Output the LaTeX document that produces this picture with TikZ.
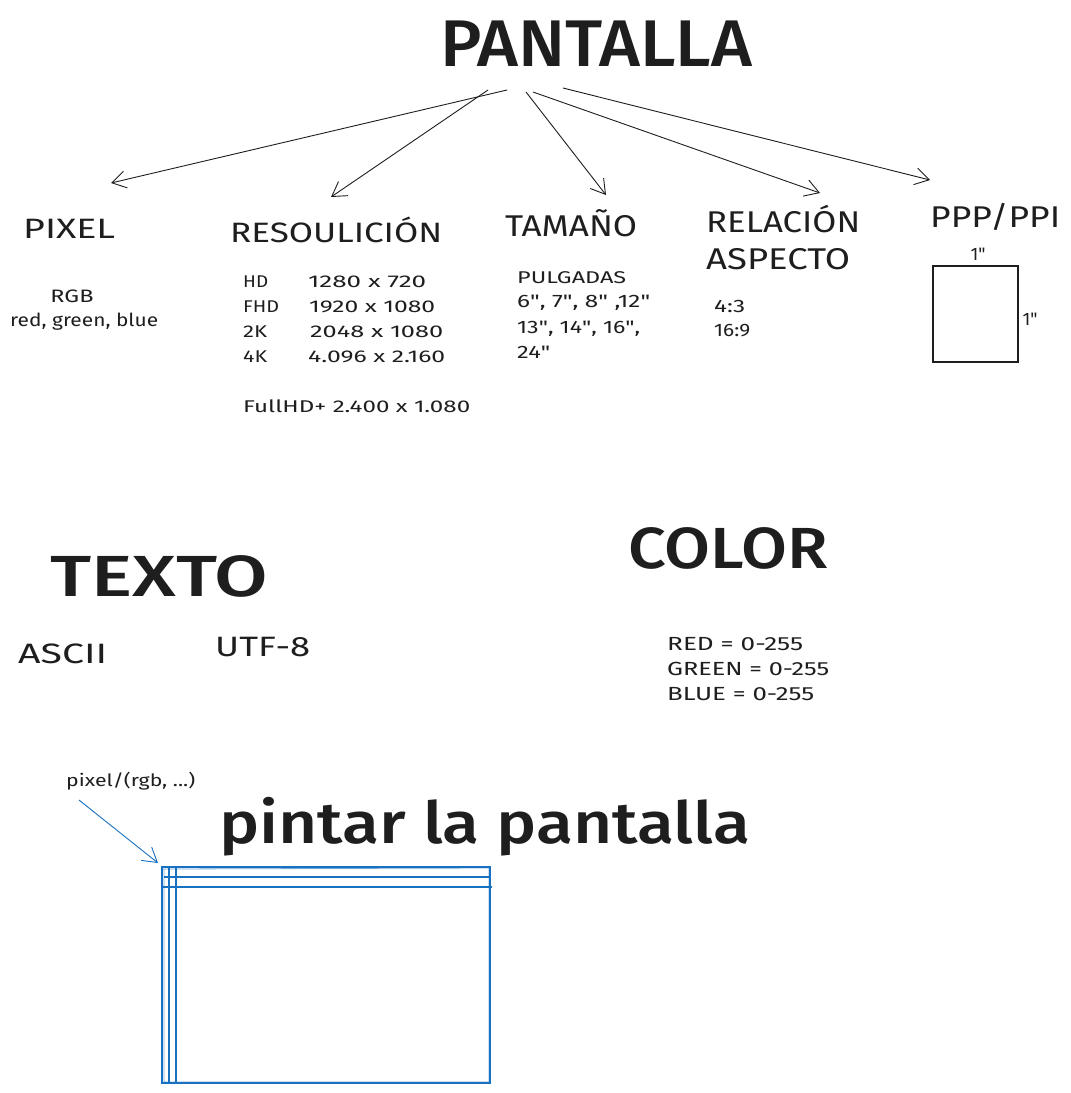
\documentclass[tikz,border=0pt]{standalone}
\usepackage{fontspec}
\setmainfont{Fira Sans}[BoldFont={Fira Sans Medium}]
\newfontfamily\qfont{Fira Sans}[Ligatures=TeXOff]
\usepackage{graphicx}
\usetikzlibrary{arrows.meta}
\definecolor{ink}{HTML}{1E1E1E}
\definecolor{sketchblue}{HTML}{1971C2}
\newcommand\fitw[2]{\resizebox{#1pt}{\height}{#2}}
\newcommand\fsz[1]{\fontsize{#1}{#1}\selectfont}
\newcommand\dq{{\qfont"}}
\tikzset{
  lbl/.style={inner sep=0pt, anchor=base west, text=ink},
  lblc/.style={inner sep=0pt, anchor=base, text=ink},
  conn/.style={draw=ink, line width=0.9pt, -{Straight Barb[length=14pt,width=17pt,line width=0.9pt]}},
  bconn/.style={draw=sketchblue, line width=0.9pt, -{Straight Barb[length=14pt,width=17pt,line width=0.9pt]}},
  bline/.style={draw=sketchblue, line width=1.1pt},
  bline2/.style={draw=sketchblue, line width=0.8pt, opacity=0.6},
  sq/.style={draw=ink, line width=1.1pt}
}
\begin{document}
\begin{tikzpicture}[x=1pt,y=-1pt]
\useasboundingbox[fill=white] (0,0) rectangle (1071,1093);

% Title
\node[lbl] (pantalla) at (440,66) {\fsz{66}\bfseries\fitw{312}{PANTALLA}};

% Section heads
\node[lbl] (pixel) at (23,238) {\fsz{28}\fitw{92}{PIXEL}};
\node[lbl] (resol) at (230,242) {\fsz{28}\fitw{212}{RESOULICIÓN}};
\node[lbl] (tam) at (505,236) {\fsz{30}\fitw{132}{TAMAÑO}};
\node[lbl] (rel) at (706,232) {\fsz{30}\fitw{154}{RELACIÓN}};
\node[lbl] (asp) at (706,269) {\fsz{30}\fitw{144}{ASPECTO}};
\node[lbl] (ppp) at (930,227) {\fsz{30}\fitw{130}{PPP/PPI}};

% Arrow start/end points
\coordinate (s1) at (507,90);
\coordinate (s2) at (488,90);
\coordinate (s3) at (526,92);
\coordinate (s4) at (533,92);
\coordinate (s5) at (563,88);
\coordinate (e1) at (111,183);
\coordinate (e2) at (331,197);
\coordinate (e3) at (606,195);
\coordinate (e4) at (820,193);
\coordinate (e5) at (930,180);
\draw[conn] (s1) -- (e1);
\draw[conn] (s2) -- (e2);
\draw[conn] (s3) -- (e3);
\draw[conn] (s4) -- (e4);
\draw[conn] (s5) -- (e5);

% Pixel details
\node[lblc] (rgb) at (72,302) {\fsz{18}\fitw{43}{RGB}};
\node[lbl] (rgbw) at (10,326) {\fsz{18}\fitw{148}{red, green, blue}};

% Resolution table
\node[lbl] (hd) at (243,287) {\fsz{17}\fitw{25}{HD}};
\node[lbl] (fhd) at (243,312) {\fsz{17}\fitw{36}{FHD}};
\node[lbl] (k2) at (243,337) {\fsz{17}\fitw{24}{2K}};
\node[lbl] (k4) at (243,362) {\fsz{17}\fitw{24}{4K}};
\node[lbl] (hdv) at (308,287) {\fsz{17}\fitw{118}{1280 x 720}};
\node[lbl] (fhdv) at (309,312) {\fsz{17}\fitw{126}{1920 x 1080}};
\node[lbl] (k2v) at (310,337) {\fsz{17}\fitw{133}{2048 x 1080}};
\node[lbl] (k4v) at (308,362) {\fsz{17}\fitw{137}{4.096 x 2.160}};
\node[lbl] (fhdp) at (243,412) {\fsz{17}\fitw{227}{FullHD+ 2.400 x 1.080}};

% Size
\node[lbl] (pulg) at (517,283) {\fsz{17}\fitw{109}{PULGADAS}};
\node[lbl] (t1) at (517,307) {\fsz{18}\fitw{133}{6\dq, 7\dq, 8\dq\ ,12\dq}};
\node[lbl] (t2) at (517,333) {\fsz{18}\fitw{123}{13\dq, 14\dq, 16\dq,}};
\node[lbl] (t3) at (517,358) {\fsz{18}\fitw{33}{24\dq}};

% Aspect
\node[lbl] (a43) at (714,312) {\fsz{18}\fitw{31}{4:3}};
\node[lbl] (a169) at (714,336) {\fsz{18}\fitw{36}{16:9}};

% PPI square
\draw[sq] (933,266) rectangle (1018,362);
\node[lblc] (inw) at (978,260) {\fsz{18}1\dq};
\node[lblc] (inh) at (1030,325) {\fsz{18}1\dq};

% Texto
\node[lbl] (texto) at (50,596) {\fsz{58}\bfseries\fitw{218}{TEXTO}};
\node[lbl] (ascii) at (18,663) {\fsz{28}\fitw{89}{ASCII}};
\node[lbl] (utf) at (215,656) {\fsz{28}\fitw{95}{UTF-8}};

% Color
\node[lbl] (color) at (628,568) {\fsz{58}\bfseries\fitw{200}{COLOR}};
\node[lbl] (red) at (667,650) {\fsz{19}\fitw{136}{RED = 0-255}};
\node[lbl] (green) at (667,675) {\fsz{19}\fitw{162}{GREEN = 0-255}};
\node[lbl] (blue) at (667,700) {\fsz{19}\fitw{147}{BLUE = 0-255}};

% Pintar la pantalla
\node[lbl] (pxl) at (66,786) {\fsz{17}\fitw{129}{pixel/(rgb, ...)}};
\node[lbl] (pintar) at (219,843) {\fsz{58}\bfseries\fitw{531}{pintar la pantalla}};

% Blue screen
\coordinate (bs) at (79,800);
\coordinate (be) at (158,863);
\draw[bconn] (bs) -- (be);
\draw[bline] (162,867) rectangle (490,1083);
\draw[bline2] (164,869) -- (164,1082) -- (489,1082) -- (489,868) -- (163,869);
\draw[bline] (169,867) -- (169,1083);
\draw[bline] (176,866) -- (176,1083);
\draw[bline] (164,877) -- (490,877);
\draw[bline] (162,887) -- (492,887);
\end{tikzpicture}
\end{document}
